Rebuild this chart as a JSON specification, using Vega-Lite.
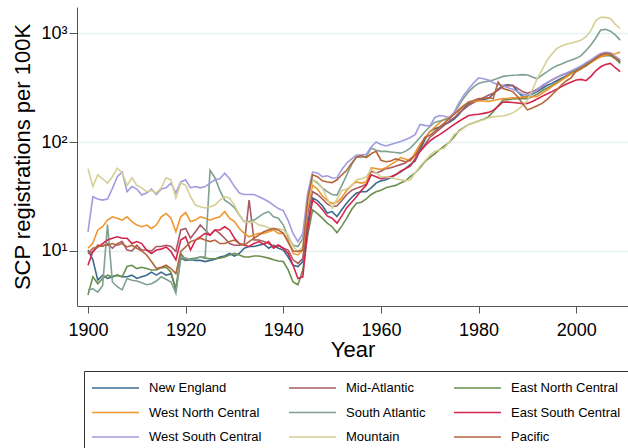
{
"$schema":"https://vega.github.io/schema/vega-lite/v6.json",
"width":551,"height":299,
"autosize":{"type":"none"},
"padding":{"left":77,"top":7,"right":0,"bottom":142},
"background":"white",
"config":{"font":"Liberation Sans","view":{"stroke":null}},
"data":{"values":[
{"year":1900,"NE":10.2,"MA":9.5,"ENC":3.95,"WNC":10.6,"SA":4.4,"ESC":7.4,"WSC":15,"MT":57,"PAC":9.5},
{"year":1901,"NE":8.3,"MA":9.8,"ENC":5.8,"WNC":11.8,"SA":4.5,"ESC":9.9,"WSC":31.5,"MT":39,"PAC":10.6},
{"year":1902,"NE":5.4,"MA":11.3,"ENC":5.0,"WNC":15.6,"SA":4.2,"ESC":10.9,"WSC":30,"MT":50,"PAC":10.9},
{"year":1903,"NE":6.0,"MA":11.0,"ENC":5.6,"WNC":16.7,"SA":4.8,"ESC":11.7,"WSC":29.3,"MT":46,"PAC":11.3},
{"year":1904,"NE":5.6,"MA":11.7,"ENC":6.0,"WNC":19.2,"SA":17.5,"ESC":12.6,"WSC":30,"MT":42,"PAC":11.3},
{"year":1905,"NE":5.8,"MA":10.6,"ENC":5.8,"WNC":20.6,"SA":5.2,"ESC":13.1,"WSC":37.6,"MT":48,"PAC":11.7},
{"year":1906,"NE":6.0,"MA":11.7,"ENC":6.0,"WNC":20.0,"SA":4.7,"ESC":13.5,"WSC":48,"MT":57.5,"PAC":11.3},
{"year":1907,"NE":5.8,"MA":12.2,"ENC":5.8,"WNC":19.2,"SA":4.4,"ESC":13.1,"WSC":53,"MT":52,"PAC":11.7},
{"year":1908,"NE":5.8,"MA":10.2,"ENC":7.2,"WNC":20.6,"SA":5.6,"ESC":13.1,"WSC":35,"MT":40,"PAC":10.9},
{"year":1909,"NE":6.0,"MA":10.0,"ENC":7.4,"WNC":18.6,"SA":5.4,"ESC":11.7,"WSC":39,"MT":47,"PAC":11.3},
{"year":1910,"NE":5.6,"MA":11.3,"ENC":6.9,"WNC":17.3,"SA":5.3,"ESC":12.2,"WSC":37,"MT":40,"PAC":10.6},
{"year":1911,"NE":5.8,"MA":10.2,"ENC":7.1,"WNC":16.7,"SA":5.1,"ESC":11.7,"WSC":32.6,"MT":38,"PAC":10.0},
{"year":1912,"NE":6.0,"MA":10.2,"ENC":6.9,"WNC":17.3,"SA":4.9,"ESC":10.2,"WSC":34,"MT":35,"PAC":9.2},
{"year":1913,"NE":6.4,"MA":10.0,"ENC":6.7,"WNC":16.1,"SA":5.0,"ESC":9.5,"WSC":37,"MT":36,"PAC":8.0},
{"year":1914,"NE":6.0,"MA":11.0,"ENC":6.7,"WNC":17.3,"SA":5.3,"ESC":10.2,"WSC":33,"MT":34,"PAC":6.9},
{"year":1915,"NE":6.4,"MA":11.0,"ENC":7.0,"WNC":20.6,"SA":5.8,"ESC":10.4,"WSC":37,"MT":38,"PAC":7.1},
{"year":1916,"NE":6.0,"MA":11.3,"ENC":7.1,"WNC":22.1,"SA":5.5,"ESC":10.9,"WSC":38,"MT":47,"PAC":7.4},
{"year":1917,"NE":6.2,"MA":11.0,"ENC":6.4,"WNC":20.0,"SA":5.2,"ESC":9.9,"WSC":42,"MT":45,"PAC":6.9},
{"year":1918,"NE":4.4,"MA":9.9,"ENC":4.5,"WNC":15.0,"SA":4.1,"ESC":8.3,"WSC":34,"MT":30.6,"PAC":6.2},
{"year":1919,"NE":8.6,"MA":15.6,"ENC":9.5,"WNC":20.6,"SA":8.8,"ESC":12.6,"WSC":43,"MT":42,"PAC":9.9},
{"year":1920,"NE":8.2,"MA":16.1,"ENC":8.3,"WNC":22.5,"SA":8.6,"ESC":13.5,"WSC":45,"MT":40,"PAC":10.9},
{"year":1921,"NE":8.3,"MA":13.1,"ENC":8.5,"WNC":18.6,"SA":8.3,"ESC":10.2,"WSC":38,"MT":31.5,"PAC":12.2},
{"year":1922,"NE":8.2,"MA":15.0,"ENC":8.6,"WNC":19.2,"SA":8.5,"ESC":12.6,"WSC":39,"MT":26.4,"PAC":12.6},
{"year":1923,"NE":8.2,"MA":17.3,"ENC":8.8,"WNC":20.6,"SA":8.8,"ESC":13.5,"WSC":38,"MT":25.5,"PAC":13.1},
{"year":1924,"NE":8.0,"MA":15.6,"ENC":8.6,"WNC":20.0,"SA":8.8,"ESC":14.5,"WSC":39,"MT":24.8,"PAC":12.6},
{"year":1925,"NE":8.2,"MA":14.0,"ENC":8.5,"WNC":19.2,"SA":55,"ESC":14.0,"WSC":42,"MT":25.5,"PAC":12.2},
{"year":1926,"NE":8.4,"MA":15.6,"ENC":8.5,"WNC":20.0,"SA":47,"ESC":15.6,"WSC":45,"MT":26.4,"PAC":12.6},
{"year":1927,"NE":8.8,"MA":14.5,"ENC":8.6,"WNC":20.6,"SA":36,"ESC":15.6,"WSC":46,"MT":29.3,"PAC":11.7},
{"year":1928,"NE":9.0,"MA":13.1,"ENC":8.8,"WNC":23.0,"SA":29.3,"ESC":16.7,"WSC":51.6,"MT":31.5,"PAC":11.7},
{"year":1929,"NE":9.5,"MA":11.7,"ENC":9.2,"WNC":20.0,"SA":27.4,"ESC":15.6,"WSC":46,"MT":30.5,"PAC":12.2},
{"year":1930,"NE":9.0,"MA":11.3,"ENC":9.5,"WNC":18.6,"SA":25.0,"ESC":13.1,"WSC":39,"MT":26.4,"PAC":12.6},
{"year":1931,"NE":9.5,"MA":11.3,"ENC":9.2,"WNC":16.1,"SA":21.4,"ESC":11.7,"WSC":34,"MT":21.4,"PAC":11.7},
{"year":1932,"NE":10.6,"MA":11.5,"ENC":8.8,"WNC":14.5,"SA":18.6,"ESC":11.3,"WSC":33,"MT":18.6,"PAC":11.3},
{"year":1933,"NE":11.0,"MA":29.3,"ENC":8.8,"WNC":13.5,"SA":18.6,"ESC":11.0,"WSC":33,"MT":18.2,"PAC":12.2},
{"year":1934,"NE":11.0,"MA":12.6,"ENC":9.0,"WNC":14.0,"SA":19.2,"ESC":11.7,"WSC":33,"MT":18.6,"PAC":13.1},
{"year":1935,"NE":11.3,"MA":12.6,"ENC":9.0,"WNC":14.5,"SA":20.6,"ESC":12.2,"WSC":31.5,"MT":17.3,"PAC":14.0},
{"year":1936,"NE":11.6,"MA":12.2,"ENC":8.8,"WNC":14.5,"SA":22.1,"ESC":11.5,"WSC":30,"MT":17.0,"PAC":15.0},
{"year":1937,"NE":10.6,"MA":11.7,"ENC":8.6,"WNC":15.0,"SA":23.0,"ESC":12.2,"WSC":28.3,"MT":16.3,"PAC":15.6},
{"year":1938,"NE":11.3,"MA":11.0,"ENC":8.3,"WNC":15.6,"SA":20.6,"ESC":10.6,"WSC":26.4,"MT":15.8,"PAC":16.1},
{"year":1939,"NE":10.6,"MA":11.3,"ENC":8.1,"WNC":14.5,"SA":20.0,"ESC":11.3,"WSC":24.5,"MT":16.0,"PAC":15.6},
{"year":1940,"NE":10.2,"MA":10.6,"ENC":8.0,"WNC":14.5,"SA":17.3,"ESC":10.6,"WSC":23.5,"MT":15.6,"PAC":14.5},
{"year":1941,"NE":8.8,"MA":10.2,"ENC":6.7,"WNC":12.6,"SA":13.5,"ESC":9.5,"WSC":19,"MT":14.0,"PAC":12.0},
{"year":1942,"NE":7.4,"MA":8.3,"ENC":5.2,"WNC":9.5,"SA":11.3,"ESC":7.4,"WSC":14.5,"MT":11.0,"PAC":10.0},
{"year":1943,"NE":7.2,"MA":7.7,"ENC":4.9,"WNC":9.2,"SA":11.0,"ESC":5.6,"WSC":12.2,"MT":9.9,"PAC":9.9},
{"year":1944,"NE":8.0,"MA":8.5,"ENC":6.7,"WNC":10.2,"SA":13.0,"ESC":5.8,"WSC":14.5,"MT":11.0,"PAC":10.2},
{"year":1945,"NE":18,"MA":22,"ENC":14,"WNC":25,"SA":30,"ESC":16,"WSC":34,"MT":28,"PAC":30},
{"year":1946,"NE":30.6,"MA":35,"ENC":23.8,"WNC":40,"SA":45,"ESC":29.3,"WSC":53,"MT":45,"PAC":50},
{"year":1947,"NE":29,"MA":33,"ENC":22,"WNC":37,"SA":42,"ESC":27,"WSC":52,"MT":43,"PAC":48},
{"year":1948,"NE":26,"MA":30,"ENC":20,"WNC":32,"SA":38,"ESC":24,"WSC":48,"MT":38,"PAC":44},
{"year":1949,"NE":22.3,"MA":27,"ENC":18,"WNC":29,"SA":35,"ESC":21,"WSC":49,"MT":30,"PAC":43},
{"year":1950,"NE":23,"MA":25.5,"ENC":16.7,"WNC":27.4,"SA":33,"ESC":20,"WSC":46.7,"MT":24.8,"PAC":42.4},
{"year":1951,"NE":20.7,"MA":26,"ENC":14.7,"WNC":28,"SA":32.6,"ESC":18,"WSC":47,"MT":30,"PAC":45},
{"year":1952,"NE":24,"MA":29,"ENC":17,"WNC":31,"SA":40,"ESC":21,"WSC":56,"MT":36,"PAC":50},
{"year":1953,"NE":27.6,"MA":33,"ENC":20,"WNC":36,"SA":50,"ESC":25,"WSC":64,"MT":37,"PAC":55},
{"year":1954,"NE":31,"MA":36,"ENC":24,"WNC":40,"SA":62,"ESC":28,"WSC":70,"MT":40,"PAC":64},
{"year":1955,"NE":34,"MA":37.6,"ENC":27.4,"WNC":43,"SA":73,"ESC":31.5,"WSC":76,"MT":45,"PAC":73},
{"year":1956,"NE":35,"MA":39,"ENC":28,"WNC":42,"SA":72,"ESC":36,"WSC":76,"MT":46,"PAC":75},
{"year":1957,"NE":35,"MA":41,"ENC":30,"WNC":43,"SA":74,"ESC":40,"WSC":77,"MT":48,"PAC":72},
{"year":1958,"NE":38,"MA":54,"ENC":33,"WNC":58,"SA":88,"ESC":50,"WSC":90,"MT":56,"PAC":78},
{"year":1959,"NE":42,"MA":52,"ENC":35,"WNC":57,"SA":84,"ESC":48,"WSC":100,"MT":52,"PAC":82},
{"year":1960,"NE":44,"MA":54,"ENC":36,"WNC":56,"SA":82,"ESC":46,"WSC":95,"MT":48,"PAC":68},
{"year":1961,"NE":45,"MA":57,"ENC":38,"WNC":58,"SA":82,"ESC":47,"WSC":92,"MT":48,"PAC":66},
{"year":1962,"NE":47,"MA":58,"ENC":39,"WNC":62,"SA":81,"ESC":48,"WSC":95,"MT":47,"PAC":67},
{"year":1963,"NE":50,"MA":60,"ENC":40,"WNC":66,"SA":80,"ESC":50,"WSC":98,"MT":46,"PAC":70},
{"year":1964,"NE":53,"MA":62,"ENC":42,"WNC":72,"SA":79,"ESC":54,"WSC":101,"MT":45,"PAC":68},
{"year":1965,"NE":57,"MA":64,"ENC":44,"WNC":70,"SA":82,"ESC":57,"WSC":105,"MT":44,"PAC":66},
{"year":1966,"NE":62,"MA":70,"ENC":48,"WNC":67,"SA":88,"ESC":60,"WSC":110,"MT":45,"PAC":68},
{"year":1967,"NE":67,"MA":76,"ENC":52,"WNC":80,"SA":98,"ESC":70,"WSC":117,"MT":52,"PAC":75},
{"year":1968,"NE":85,"MA":82,"ENC":58,"WNC":95,"SA":110,"ESC":82,"WSC":145,"MT":60,"PAC":90},
{"year":1969,"NE":105,"MA":95,"ENC":66,"WNC":110,"SA":124,"ESC":92,"WSC":142,"MT":67,"PAC":110},
{"year":1970,"NE":125,"MA":110,"ENC":72,"WNC":124,"SA":138,"ESC":102,"WSC":140,"MT":75,"PAC":115},
{"year":1971,"NE":132,"MA":120,"ENC":78,"WNC":137,"SA":151,"ESC":110,"WSC":167,"MT":82,"PAC":125},
{"year":1972,"NE":137,"MA":131,"ENC":85,"WNC":150,"SA":156,"ESC":117,"WSC":175,"MT":85,"PAC":137},
{"year":1973,"NE":145,"MA":143,"ENC":92,"WNC":162,"SA":160,"ESC":125,"WSC":172,"MT":88,"PAC":150},
{"year":1974,"NE":152,"MA":155,"ENC":99,"WNC":170,"SA":162,"ESC":135,"WSC":167,"MT":100,"PAC":165},
{"year":1975,"NE":162,"MA":167,"ENC":112,"WNC":180,"SA":185,"ESC":145,"WSC":187,"MT":117,"PAC":180},
{"year":1976,"NE":180,"MA":185,"ENC":127,"WNC":200,"SA":217,"ESC":155,"WSC":230,"MT":125,"PAC":195},
{"year":1977,"NE":205,"MA":200,"ENC":136,"WNC":218,"SA":255,"ESC":165,"WSC":270,"MT":135,"PAC":215},
{"year":1978,"NE":226,"MA":217,"ENC":145,"WNC":233,"SA":290,"ESC":175,"WSC":308,"MT":145,"PAC":233},
{"year":1979,"NE":235,"MA":230,"ENC":150,"WNC":235,"SA":320,"ESC":178,"WSC":350,"MT":150,"PAC":240},
{"year":1980,"NE":240,"MA":243,"ENC":156,"WNC":238,"SA":345,"ESC":180,"WSC":388,"MT":156,"PAC":250},
{"year":1981,"NE":245,"MA":255,"ENC":162,"WNC":238,"SA":355,"ESC":183,"WSC":380,"MT":160,"PAC":252},
{"year":1982,"NE":250,"MA":268,"ENC":170,"WNC":236,"SA":362,"ESC":187,"WSC":370,"MT":167,"PAC":255},
{"year":1983,"NE":275,"MA":280,"ENC":190,"WNC":240,"SA":370,"ESC":195,"WSC":350,"MT":170,"PAC":250},
{"year":1984,"NE":305,"MA":300,"ENC":215,"WNC":245,"SA":385,"ESC":212,"WSC":335,"MT":172,"PAC":355},
{"year":1985,"NE":330,"MA":322,"ENC":243,"WNC":250,"SA":400,"ESC":233,"WSC":330,"MT":173,"PAC":310},
{"year":1986,"NE":335,"MA":328,"ENC":245,"WNC":252,"SA":405,"ESC":232,"WSC":315,"MT":178,"PAC":300},
{"year":1987,"NE":330,"MA":330,"ENC":248,"WNC":255,"SA":410,"ESC":230,"WSC":304,"MT":185,"PAC":290},
{"year":1988,"NE":290,"MA":310,"ENC":250,"WNC":255,"SA":412,"ESC":228,"WSC":290,"MT":197,"PAC":260},
{"year":1989,"NE":262,"MA":290,"ENC":250,"WNC":258,"SA":415,"ESC":225,"WSC":275,"MT":215,"PAC":225},
{"year":1990,"NE":262,"MA":280,"ENC":250,"WNC":258,"SA":412,"ESC":226,"WSC":270,"MT":240,"PAC":197},
{"year":1991,"NE":275,"MA":290,"ENC":260,"WNC":260,"SA":395,"ESC":235,"WSC":280,"MT":300,"PAC":205},
{"year":1992,"NE":290,"MA":305,"ENC":275,"WNC":262,"SA":380,"ESC":248,"WSC":300,"MT":380,"PAC":215},
{"year":1993,"NE":310,"MA":325,"ENC":295,"WNC":280,"SA":410,"ESC":262,"WSC":330,"MT":460,"PAC":226},
{"year":1994,"NE":330,"MA":348,"ENC":312,"WNC":300,"SA":440,"ESC":276,"WSC":350,"MT":560,"PAC":245},
{"year":1995,"NE":345,"MA":370,"ENC":330,"WNC":322,"SA":474,"ESC":290,"WSC":370,"MT":640,"PAC":270},
{"year":1996,"NE":365,"MA":390,"ENC":350,"WNC":345,"SA":500,"ESC":305,"WSC":390,"MT":720,"PAC":300},
{"year":1997,"NE":385,"MA":410,"ENC":375,"WNC":370,"SA":520,"ESC":322,"WSC":412,"MT":760,"PAC":335},
{"year":1998,"NE":405,"MA":425,"ENC":400,"WNC":395,"SA":545,"ESC":340,"WSC":430,"MT":790,"PAC":365},
{"year":1999,"NE":425,"MA":440,"ENC":430,"WNC":420,"SA":565,"ESC":355,"WSC":450,"MT":810,"PAC":390},
{"year":2000,"NE":442,"MA":458,"ENC":458,"WNC":442,"SA":585,"ESC":370,"WSC":474,"MT":830,"PAC":450},
{"year":2001,"NE":470,"MA":490,"ENC":490,"WNC":470,"SA":620,"ESC":375,"WSC":500,"MT":860,"PAC":475},
{"year":2002,"NE":510,"MA":525,"ENC":520,"WNC":500,"SA":690,"ESC":365,"WSC":535,"MT":925,"PAC":500},
{"year":2003,"NE":550,"MA":560,"ENC":550,"WNC":535,"SA":776,"ESC":400,"WSC":566,"MT":1050,"PAC":540},
{"year":2004,"NE":590,"MA":595,"ENC":580,"WNC":570,"SA":900,"ESC":450,"WSC":610,"MT":1300,"PAC":585},
{"year":2005,"NE":628,"MA":628,"ENC":606,"WNC":606,"SA":1066,"ESC":490,"WSC":650,"MT":1390,"PAC":628},
{"year":2006,"NE":650,"MA":650,"ENC":620,"WNC":630,"SA":1080,"ESC":515,"WSC":665,"MT":1390,"PAC":650},
{"year":2007,"NE":650,"MA":645,"ENC":620,"WNC":640,"SA":1040,"ESC":526,"WSC":660,"MT":1360,"PAC":640},
{"year":2008,"NE":600,"MA":600,"ENC":580,"WNC":645,"SA":960,"ESC":480,"WSC":610,"MT":1200,"PAC":590},
{"year":2009,"NE":545,"MA":566,"ENC":526,"WNC":665,"SA":860,"ESC":442,"WSC":566,"MT":1100,"PAC":545}
]},
"transform":[{"fold":["NE","MA","ENC","WNC","SA","ESC","WSC","MT","PAC"],"as":["region","v"]}],
"mark":{"type":"line","strokeWidth":1.6,"clip":true},
"encoding":{
"x":{"field":"year","type":"quantitative","scale":{"domain":[1897.75,2010.6],"nice":false,"zero":false},
"axis":{"values":[1900,1920,1940,1960,1980,2000],"format":"d","title":"Year","grid":false,"domainColor":"#555555","tickColor":"#555555","tickSize":7,"labelFontSize":18,"labelColor":"#000000","labelPadding":8,"titleFontSize":22,"titleFontWeight":"normal","titleColor":"#000000","titlePadding":0}},
"y":{"field":"v","type":"quantitative","scale":{"type":"log","domain":[3.129,1732],"nice":false},
"axis":{"values":[10,100,1000],"labelExpr":"datum.value==10?'10¹':(datum.value==100?'10²':'10³')","title":"SCP registrations per 100K","grid":true,"gridColor":"#E8F1F2","gridWidth":1.5,"domainColor":"#555555","tickColor":"#555555","tickSize":8,"labelFontSize":18,"labelColor":"#000000","labelPadding":2,"titleFontSize":22,"titleFontWeight":"normal","titleColor":"#000000","titlePadding":6}},
"color":{"field":"region","type":"nominal",
"scale":{"domain":["NE","MA","ENC","WNC","SA","ESC","WSC","MT","PAC"],"range":["#3B6A8F","#A85A63","#6B8F4E","#F0962E","#7FA190","#D6254D","#A29BE0","#D5CF95","#B5653C"]},
"legend":{"orient":"none","direction":"horizontal","legendX":7,"legendY":364,"columns":3,"title":null,"strokeColor":"#333333","padding":7,"symbolType":"M-1,0L4.22,0","symbolSize":324,"symbolStrokeWidth":1.5,"labelFontSize":13,"labelColor":"#000000","labelOffset":38,"columnPadding":24,"rowPadding":7.5,
"labelExpr":"{'NE':'New England','MA':'Mid-Atlantic','ENC':'East North Central','WNC':'West North Central','SA':'South Atlantic','ESC':'East South Central','WSC':'West South Central','MT':'Mountain','PAC':'Pacific'}[datum.label]"}}
}
}
